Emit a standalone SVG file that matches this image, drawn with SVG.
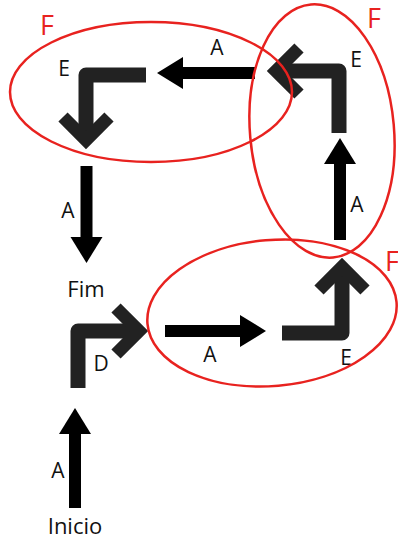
<svg xmlns="http://www.w3.org/2000/svg" width="398" height="542" viewBox="0 0 398 542">
  <style>
    .bend { fill: none; stroke: #222; stroke-width: 15; stroke-linejoin: round; marker-end: url(#chev); }
    .shaft { fill: none; stroke: #000; stroke-width: 12; marker-end: url(#head); }
    .lbl { font-family: "Open Sans", "DejaVu Sans", sans-serif; font-size: 21px; fill: #111; text-anchor: middle; }
    .term { font-size: 22px; }
    .f { font-family: "Open Sans", "DejaVu Sans", sans-serif; font-size: 27px; fill: #e8221f; }
    .ring { fill: none; stroke: #e8221f; stroke-width: 2.5; }
  </style>
  <defs>
    <!-- open chevron tip for the turning strokes -->
    <marker id="chev" markerUnits="userSpaceOnUse" markerWidth="10" markerHeight="10" refX="0" refY="0" orient="auto" overflow="visible">
      <path d="M-23,-23 L0,0 L-23,23" fill="none" stroke="#222" stroke-width="13" stroke-linejoin="miter"/>
    </marker>
    <!-- solid triangular head for the straight moves -->
    <marker id="head" markerUnits="userSpaceOnUse" markerWidth="10" markerHeight="10" refX="0" refY="0" orient="auto" overflow="visible">
      <path d="M-6,-16 L20,0 L-6,16 Z" fill="#000"/>
    </marker>
  </defs>
  <rect width="398" height="542" fill="#fff"/>

  <!-- straight moves -->
  <g id="connectors">
    <path class="shaft" d="M75,508 V428"/>
    <path class="shaft" d="M165,331 H246"/>
    <path class="shaft" d="M340,240 V158"/>
    <path class="shaft" d="M255,73 H177"/>
    <path class="shaft" d="M86.5,166 V243"/>
    <text class="lbl" x="58" y="478">A</text>
    <text class="lbl" x="210" y="362">A</text>
    <text class="lbl" x="357" y="212">A</text>
    <text class="lbl" x="217" y="55">A</text>
    <text class="lbl" x="68" y="218">A</text>
  </g>

  <g id="inicio"><text class="lbl term" x="75" y="534">Inicio</text></g>
  <g id="fim"><text class="lbl term" x="86" y="297">Fim</text></g>

  <g id="turn-d">
    <path class="bend" d="M78,388 V331 H139"/>
    <text class="lbl" x="101" y="371">D</text>
  </g>
  <g id="turn-e1">
    <path class="bend" d="M282,333 H342 V267"/>
    <text class="lbl" x="346" y="365">E</text>
  </g>
  <g id="turn-e2">
    <path class="bend" d="M339,133 V71 H276"/>
    <text class="lbl" x="356" y="67">E</text>
  </g>
  <g id="turn-e3">
    <path class="bend" d="M146,75 H86 V140"/>
    <text class="lbl" x="64" y="76">E</text>
  </g>

  <!-- F groupings -->
  <g id="group-f1">
    <ellipse class="ring" cx="272" cy="313" rx="125" ry="73" transform="rotate(-5 272 313)"/>
    <text class="f" x="385" y="271">F</text>
  </g>
  <g id="group-f2">
    <ellipse class="ring" cx="322" cy="131" rx="72" ry="127" transform="rotate(-5 322 131)"/>
    <text class="f" x="367" y="28">F</text>
  </g>
  <g id="group-f3">
    <ellipse class="ring" cx="151" cy="92" rx="141" ry="70"/>
    <text class="f" x="40" y="35">F</text>
  </g>
</svg>
